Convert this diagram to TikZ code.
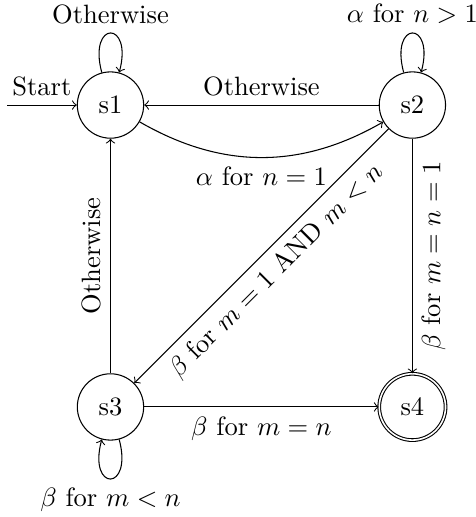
\documentclass[tikz,border=0pt]{standalone}
\usepackage{amsmath}
\usepackage{tikz}
\usetikzlibrary{positioning}
\tikzset{
  stnode/.style={circle,draw,minimum size=2.5em,inner sep=0pt},
  accnode/.style={stnode,double},
  trans/.style={->},
}

\begin{document}
\begin{tikzpicture}[node distance=4cm,on grid]
  \useasboundingbox (-41.65pt,-155.3pt) rectangle (137.75pt,39.6pt);
  \node[stnode](s1){s1};
  \node[stnode,right=of s1](s2){s2};
  \node[stnode,below=of s1](s3){s3};
  \node[accnode,right=of s3](s4){s4};
  \coordinate[left=39pt of s1](start);
  \draw[trans](start) -- node[above]{Start} (s1);
  \draw[trans](s1) to[loop above] node[above]{Otherwise} ();
  \draw[trans](s2) to[loop above] node[above]{$\alpha$ for $n>1$} ();
  \draw[trans](s2) -- node[above]{Otherwise} (s1);
  \draw[trans](s1) to[bend right] node[below]{$\alpha$ for $n=1$} (s2);
  \draw[trans](s2) -- node[sloped,below]{$\beta$ for $m=1$ AND $m<n$} (s3);
  \draw[trans](s2) -- node[rotate=90,anchor=north]{$\beta$ for $m=n=1$} (s4);
  \draw[trans](s3) -- node[rotate=90,anchor=south]{Otherwise} (s1);
  \draw[trans](s3) -- node[below]{$\beta$ for $m=n$} (s4);
  \draw[trans](s3) to[loop below] node[below]{$\beta$ for $m<n$} ();
\end{tikzpicture}
\end{document}
